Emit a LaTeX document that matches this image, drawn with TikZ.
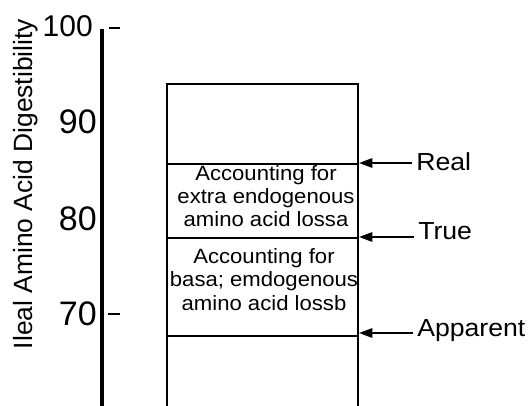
\documentclass[tikz,border=0pt]{standalone}
\usepackage{fontspec}
\setmainfont{Liberation Sans}
\newfontfamily\boxfont[FakeStretch=1.07]{Liberation Sans}
\newfontfamily\levelfont[FakeStretch=1.08]{Liberation Sans}
\usetikzlibrary{arrows.meta}
\begin{document}
\begin{tikzpicture}[x=0.75pt,y=-0.75pt,
  boxtext/.style={anchor=base,align=center,inner sep=0pt,font=\boxfont\fontsize{15.5}{17.6}\selectfont},
  level/.style={anchor=base west,inner sep=0pt,inner xsep=3pt,font=\levelfont\fontsize{18.5}{22}\selectfont},
  ticklabel/.style={anchor=base east,inner sep=0pt,font=\fontsize{25.5}{30}\selectfont},
  levelarrow/.style={-{Triangle[length=10pt,width=7pt]},line width=1.4pt}]
\useasboundingbox (0,0) rectangle (532,406);

% Axis
\draw[line width=2.6pt] (102,29) -- (102,406);
\draw[line width=1pt] (109,28) -- (120,28); % tick at 100
\draw[line width=1pt] (108,314) -- (120,314); % tick at 70
\node[ticklabel,font=\fontsize{22.5}{27}\selectfont] (t100) at (93,37) {100};
\node[ticklabel] (t90) at (97,134) {90};
\node[ticklabel] (t80) at (97,231) {80};
\node[ticklabel] (t70) at (97,325) {70};
\node[rotate=90,anchor=base,inner sep=0pt,font=\fontsize{19.8}{24}\selectfont] (ylabel) at (32,184) {Ileal Amino Acid Digestibility};

% Column
\draw[line width=1.5pt] (167,406) -- (167,84) -- (358,84) -- (358,406);
\draw[line width=1.7pt] (167,164) -- (358,164); % real
\draw[line width=1.7pt] (167,238) -- (358,238); % true
\draw[line width=1.5pt] (167,336) -- (358,336); % apparent

% Texts in the column (base = last line)
\node[boxtext] (extra) at (266,227) {Accounting for\\extra endogenous\\amino acid lossa};
\node[boxtext] (basal) at (264,310) {Accounting for\\basa; emdogenous\\amino acid lossb};

% Levels
\coordinate (realpt) at (359,163);
\coordinate (truept) at (359,237);
\coordinate (apppt) at (359,333);
\node[level] (real) at (412,171) {Real};
\node[level] (true) at (414,239) {True};
\node[level] (app) at (413,336) {Apparent};
\draw[levelarrow] (realpt -| real.west) -- (realpt);
\draw[levelarrow] (truept -| true.west) -- (truept);
\draw[levelarrow] (apppt -| app.west) -- (apppt);

\end{tikzpicture}
\end{document}
